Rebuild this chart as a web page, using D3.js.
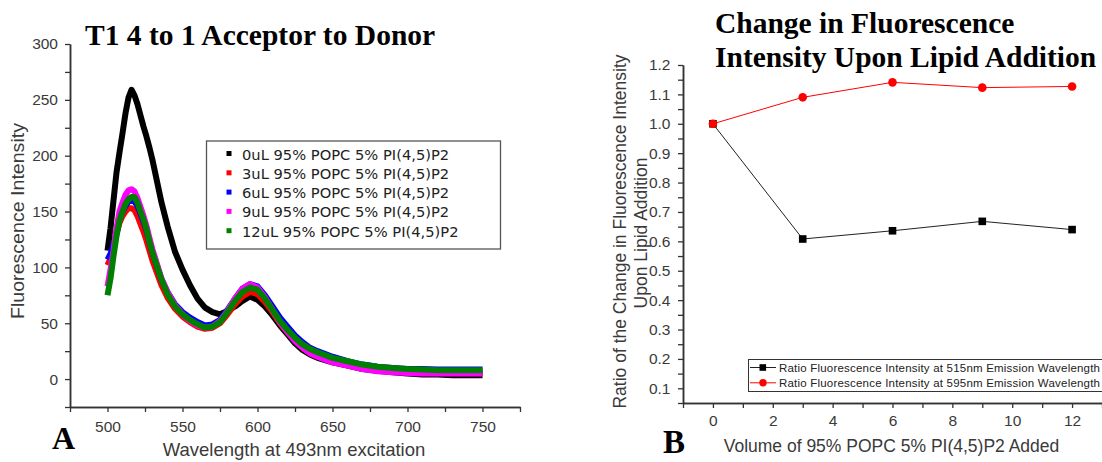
<!DOCTYPE html>
<html>
<head>
<meta charset="utf-8">
<script src="https://cdn.jsdelivr.net/npm/d3@7"></script>
<style>
  body { margin: 0; background: #fff; }
  svg { display: block; background: #fff; }
</style>
</head>
<body>
<svg width="1102" height="462"></svg>
<script>
// ---- panel A data: emission spectra ----
const wavelengths = [
  500, 502, 504, 506, 508, 510, 512, 514, 516, 518,
  520, 522, 524, 526, 528, 530, 533, 536, 540, 545,
  550, 555, 560, 565, 570, 575, 580, 585, 590, 595,
  600, 605, 610, 615, 620, 625, 630, 635, 640, 650,
  660, 670, 680, 690, 700, 710, 720, 730, 740, 750
];
const intensity0uL = [
  115, 135, 160, 185, 203, 220, 238, 252, 259, 254,
  246, 236, 226, 217, 207, 196, 177, 158, 137, 114,
  98, 84, 72, 64, 60, 58, 61, 65, 70, 74,
  71, 65, 57, 48, 40, 32, 26, 22, 19, 15,
  12, 9, 7.5, 6, 5, 4, 4, 3.5, 3.5, 3.5
];
const intensity3uL = [
  102, 108, 118, 130, 140, 146, 150, 153, 153, 151,
  146, 139, 132, 124, 115, 106, 95, 84, 73, 63,
  56, 51, 47, 45, 46, 50, 58, 67, 74, 78,
  76, 69, 60, 50, 42, 35, 29, 25, 22, 17,
  14, 11, 9, 8, 7, 6.5, 6, 6, 6, 6
];
const intensity6uL = [
  107, 112, 120, 132, 143, 150, 155, 159, 160, 159,
  155, 148, 141, 133, 123, 113, 101, 89, 78, 67,
  60, 55, 51, 48, 49, 53, 62, 72, 81, 85,
  83, 75, 65, 55, 47, 39, 33, 28, 25, 20,
  16, 13, 11, 10, 9, 9, 8.5, 8.5, 8.5, 8.5
];
const intensity9uL = [
  83, 98, 115, 135, 150, 158, 165, 169, 170, 168,
  162, 154, 146, 137, 126, 116, 103, 90, 78, 66,
  58, 52, 48, 46, 47, 52, 61, 72, 81, 85,
  82, 73, 62, 51, 42, 34, 28, 23, 20, 15,
  12, 9, 7, 6, 5.5, 5, 5, 5, 5, 5
];
const intensity12uL = [
  75, 90, 110, 128, 142, 150, 157, 161, 163, 163,
  158, 150, 143, 134, 123, 113, 101, 89, 76, 65,
  58, 53, 49, 46, 47, 51, 60, 70, 78, 82,
  80, 72, 62, 52, 44, 37, 31, 27, 24, 19,
  16, 13, 11, 10, 9, 8.5, 8, 8, 8, 8
];
const spectraLabels = [
  '0uL 95% POPC 5% PI(4,5)P2',
  '3uL 95% POPC 5% PI(4,5)P2',
  '6uL 95% POPC 5% PI(4,5)P2',
  '9uL 95% POPC 5% PI(4,5)P2',
  '12uL 95% POPC 5% PI(4,5)P2'
];
const spectraXTicks = [500, 550, 600, 650, 700, 750];
const spectraXMinor = [475, 525, 575, 625, 675, 725, 775];
const spectraYTicks = [0, 50, 100, 150, 200, 250, 300];
const spectraYMinor = [-25, 25, 75, 125, 175, 225, 275];

// ---- panel B data: ratio vs lipid volume ----
const lipidVolumes = [0, 3, 6, 9, 12];
const ratio515 = [1.0, 0.608, 0.636, 0.668, 0.64];
const ratio595 = [1.0, 1.09, 1.141, 1.123, 1.127];
const ratioLabels = [
  'Ratio Fluorescence Intensity at 515nm Emission Wavelength',
  'Ratio Fluorescence Intensity at 595nm Emission Wavelength'
];
const ratioXTicks = [0, 2, 4, 6, 8, 10, 12];
const ratioXMinor = [-1, 1, 3, 5, 7, 9, 11, 13];
const ratioYTicks = [0.1, 0.2, 0.3, 0.4, 0.5, 0.6, 0.7, 0.8, 0.9, 1.0, 1.1, 1.2];
const ratioYMinor = [0.05, 0.15, 0.25, 0.35, 0.45, 0.55, 0.65, 0.75, 0.85, 0.95, 1.05, 1.15];

const spectraColors = ['#000000', '#ff0000', '#0000ff', '#ff00ff', '#008000'];
const sansFont = '"Liberation Sans", Arial, sans-serif';
const serifFont = '"Liberation Serif", "Times New Roman", serif';
const labelColor = '#3a3a3a';

var svg = d3.select('svg');

function styleAxis(g, size) {
  g.attr('font-family', sansFont).attr('font-size', size);
  g.select('.domain').attr('stroke', '#333').attr('stroke-width', 1.5);
  g.selectAll('.tick line').attr('stroke', '#333').attr('stroke-width', 1.3);
  g.selectAll('.tick text').attr('fill', labelColor);
}

// ================= Panel A =================
var xA = d3.scaleLinear().domain([475, 775]).range([70, 520]);
var yA = d3.scaleLinear().domain([-25, 300]).range([407, 44]);

var spectra = [intensity0uL, intensity3uL, intensity6uL, intensity9uL, intensity12uL];

var spectrumLine = d3.line()
  .x(function (d, i) { return xA(wavelengths[i]); })
  .y(function (d) { return yA(d); });

svg.append('g')
  .selectAll('path')
  .data(spectra)
  .enter()
  .append('path')
  .attr('d', spectrumLine)
  .attr('fill', 'none')
  .attr('stroke', function (d, i) { return spectraColors[i]; })
  .attr('stroke-width', 6)
  .attr('stroke-linejoin', 'round');

svg.append('g')
  .attr('transform', 'translate(0,407)')
  .call(d3.axisBottom(xA).tickValues(spectraXMinor).tickSize(5).tickFormat('').tickSizeOuter(0))
  .call(styleAxis, 15.5);
svg.append('g')
  .attr('transform', 'translate(0,407)')
  .call(d3.axisBottom(xA).tickValues(spectraXTicks).tickSize(5).tickPadding(9).tickSizeOuter(0))
  .call(styleAxis, 15.5);

svg.append('g')
  .attr('transform', 'translate(70,0)')
  .call(d3.axisLeft(yA).tickValues(spectraYMinor).tickSize(5).tickFormat('').tickSizeOuter(0))
  .call(styleAxis, 15.5);
svg.append('g')
  .attr('transform', 'translate(70,0)')
  .call(d3.axisLeft(yA).tickValues(spectraYTicks).tickSize(5).tickPadding(7).tickSizeOuter(0))
  .call(styleAxis, 15.5);

// title, letter, axis titles
svg.append('text')
  .attr('x', 85).attr('y', 45)
  .attr('font-family', serifFont).attr('font-weight', 'bold')
  .attr('font-size', 29.5).attr('fill', '#000')
  .text('T1 4 to 1 Acceptor to Donor');

svg.append('text')
  .attr('x', 52).attr('y', 449)
  .attr('font-family', serifFont).attr('font-weight', 'bold')
  .attr('font-size', 32).attr('fill', '#000')
  .text('A');

svg.append('text')
  .attr('x', 294).attr('y', 456)
  .attr('text-anchor', 'middle')
  .attr('font-family', sansFont).attr('font-size', 18.5).attr('fill', labelColor)
  .text('Wavelength at 493nm excitation');

svg.append('text')
  .attr('transform', 'translate(24,221) rotate(-90)')
  .attr('text-anchor', 'middle')
  .attr('font-family', sansFont).attr('font-size', 18).attr('fill', labelColor)
  .attr('textLength', 196).attr('lengthAdjust', 'spacingAndGlyphs')
  .text('Fluorescence Intensity');

// legend A
var legendA = svg.append('g');
legendA.append('rect')
  .attr('x', 206.5).attr('y', 141)
  .attr('width', 294).attr('height', 108)
  .attr('fill', '#fff').attr('stroke', '#555').attr('stroke-width', 1.3);

var legendRows = legendA.selectAll('g.row')
  .data(spectraLabels)
  .enter()
  .append('g')
  .attr('class', 'row')
  .attr('transform', function (d, i) { return 'translate(0,' + (154 + i * 19.3) + ')'; });

legendRows.append('rect')
  .attr('x', 226.5).attr('y', -3)
  .attr('width', 5).attr('height', 5)
  .attr('fill', function (d, i) { return spectraColors[i]; });

legendRows.append('text')
  .attr('x', 242).attr('y', 5.5)
  .attr('font-family', '"DejaVu Sans", Verdana, sans-serif')
  .attr('font-size', 14.7).attr('fill', '#222')
  .text(function (d) { return d; });

// ================= Panel B =================
var xB = d3.scaleLinear().domain([-1, 13]).range([683, 1102]);
var yB = d3.scaleLinear().domain([0.05, 1.2]).range([403, 65]);

svg.append('g')
  .attr('transform', 'translate(0,403)')
  .call(d3.axisBottom(xB).tickValues(ratioXMinor).tickSize(5).tickFormat('').tickSizeOuter(0))
  .call(styleAxis, 15.5);
svg.append('g')
  .attr('transform', 'translate(0,403)')
  .call(d3.axisBottom(xB).tickValues(ratioXTicks).tickSize(5).tickPadding(7).tickSizeOuter(0))
  .call(styleAxis, 15.5);

svg.append('g')
  .attr('transform', 'translate(683,0)')
  .call(d3.axisLeft(yB).tickValues(ratioYMinor).tickSize(5).tickFormat('').tickSizeOuter(0))
  .call(styleAxis, 15.5);
svg.append('g')
  .attr('transform', 'translate(683,0)')
  .call(d3.axisLeft(yB).tickValues(ratioYTicks).tickSize(5).tickPadding(7.5).tickFormat(d3.format('.1f')).tickSizeOuter(0))
  .call(styleAxis, 15.5);

var ratioLine = d3.line()
  .x(function (d, i) { return xB(lipidVolumes[i]); })
  .y(function (d) { return yB(d); });

svg.append('path')
  .attr('d', ratioLine(ratio515))
  .attr('fill', 'none').attr('stroke', '#222').attr('stroke-width', 1);
svg.append('path')
  .attr('d', ratioLine(ratio595))
  .attr('fill', 'none').attr('stroke', '#ff0000').attr('stroke-width', 1);

svg.append('g')
  .selectAll('rect')
  .data(ratio515)
  .enter()
  .append('rect')
  .attr('x', function (d, i) { return xB(lipidVolumes[i]) - 3.8; })
  .attr('y', function (d) { return yB(d) - 3.8; })
  .attr('width', 7.6).attr('height', 7.6)
  .attr('fill', '#000');

svg.append('g')
  .selectAll('circle')
  .data(ratio595)
  .enter()
  .append('circle')
  .attr('cx', function (d, i) { return xB(lipidVolumes[i]); })
  .attr('cy', function (d) { return yB(d); })
  .attr('r', 4.3)
  .attr('fill', '#ff0000');

// title B
svg.append('text')
  .attr('x', 715).attr('y', 33)
  .attr('font-family', serifFont).attr('font-weight', 'bold')
  .attr('font-size', 29.5).attr('fill', '#000')
  .text('Change in Fluorescence');
svg.append('text')
  .attr('x', 715).attr('y', 66.5)
  .attr('font-family', serifFont).attr('font-weight', 'bold')
  .attr('font-size', 29.5).attr('fill', '#000')
  .text('Intensity Upon Lipid Addition');

svg.append('text')
  .attr('x', 663).attr('y', 453)
  .attr('font-family', serifFont).attr('font-weight', 'bold')
  .attr('font-size', 33).attr('fill', '#000')
  .text('B');

svg.append('text')
  .attr('x', 891.5).attr('y', 452)
  .attr('text-anchor', 'middle')
  .attr('font-family', sansFont).attr('font-size', 17.5).attr('fill', labelColor)
  .text('Volume of 95% POPC 5% PI(4,5)P2 Added');

svg.append('text')
  .attr('transform', 'translate(626,231.5) rotate(-90)')
  .attr('text-anchor', 'middle')
  .attr('font-family', sansFont).attr('font-size', 17.5).attr('fill', labelColor)
  .text('Ratio of the Change in Fluorescence Intensity');
svg.append('text')
  .attr('transform', 'translate(647,233) rotate(-90)')
  .attr('text-anchor', 'middle')
  .attr('font-family', sansFont).attr('font-size', 17.5).attr('fill', labelColor)
  .text('Upon Lipid Addition');

// legend B
var legendB = svg.append('g');
legendB.append('rect')
  .attr('x', 748.5).attr('y', 359.5)
  .attr('width', 360).attr('height', 32)
  .attr('fill', '#fff').attr('stroke', '#333').attr('stroke-width', 1);

var legendBRows = legendB.selectAll('g.row')
  .data(ratioLabels)
  .enter()
  .append('g')
  .attr('class', 'row')
  .attr('transform', function (d, i) { return 'translate(0,' + (367.5 + i * 15.3) + ')'; });

legendBRows.append('line')
  .attr('x1', 750).attr('x2', 776)
  .attr('stroke', function (d, i) { return i === 0 ? '#222' : '#ff0000'; })
  .attr('stroke-width', 1);

legendBRows.filter(function (d, i) { return i === 0; })
  .append('rect')
  .attr('x', 759.5).attr('y', -3.3).attr('width', 6.6).attr('height', 6.6)
  .attr('fill', '#000');
legendBRows.filter(function (d, i) { return i === 1; })
  .append('circle')
  .attr('cx', 763).attr('r', 3.7)
  .attr('fill', '#ff0000');

legendBRows.append('text')
  .attr('x', 779).attr('y', 4)
  .attr('font-family', sansFont).attr('font-size', 11.5).attr('fill', '#222')
  .attr('textLength', 321).attr('lengthAdjust', 'spacing')
  .text(function (d) { return d; });
</script>
</body>
</html>
